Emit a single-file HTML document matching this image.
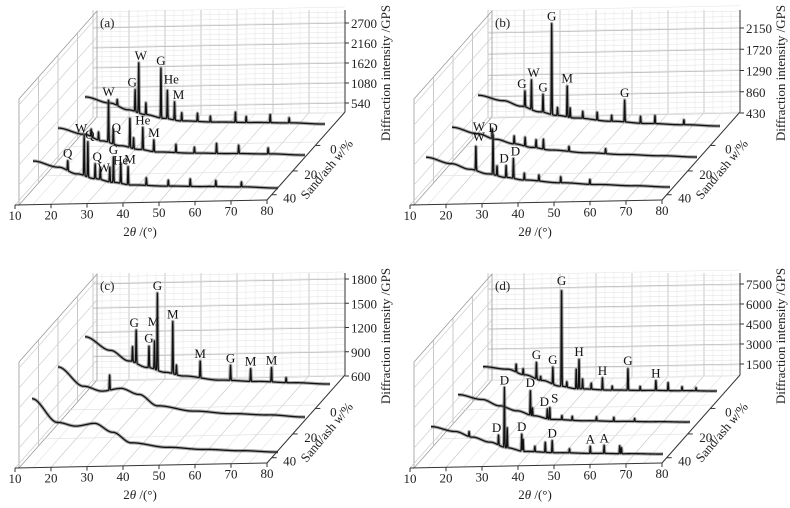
<!DOCTYPE html>
<html><head><meta charset="utf-8"><style>
html,body{margin:0;padding:0;background:#fff;}
svg{display:block;font-family:"Liberation Serif",serif;}
</style></head><body>
<svg id="chart" width="790" height="508" viewBox="0 0 790 508" xmlns="http://www.w3.org/2000/svg"></svg>
<script>
// ---- data ----
const thetaGrid=[13,20,25,30,35,40,50,60,70,80];
const seriesNames=['0','20','40'];
// panel a
const aTicks=[540,1080,1620,2160,2700];
const aBg0=[860,680,490,350,240,160,110,80,50,0];
const aBg20=[860,680,490,350,240,160,110,80,50,0];
const aBg40=[860,680,490,350,240,160,110,80,50,0];
const aP0=[[22,160],[27,590],[28,1350],[30,320],[34.2,1350],[36,760],[38,490],[40,220],[44.4,220],[48,160],[55,270],[58,160],[64.7,220],[70,135]];
const aP20=[[22,200],[24,220],[26.7,1160],[28,400],[32.5,810],[33.5,300],[36,600],[39,320],[45,220],[50,160],[56,270],[62,220],[70,160]];
const aP40=[[22.5,270],[27,1080],[28,950],[30,400],[31.4,320],[34,400],[35,680],[37,540],[39,490],[44,200],[50,160],[56,200],[63,160],[70,130]];
const aLabels=[[0,27,'G',-3,0],[0,28,'W',2,0],[0,34.2,'G',0,0],[0,36,'He',4,-4],[0,38,'M',4,0],
 [1,26.7,'W',0,0],[1,28,'Q',3,6],[1,36,'He',0,0],[1,39,'M',0,0],
 [2,22.5,'Q',0,0],[2,27,'W',-3,0],[2,28,'Q',2,0],[2,30,'Q',2,0],[2,34,'W',-6,8],[2,35,'G',0,0],[2,37,'He',0,4],[2,39,'M',2,0]];
// panel b
const bTicks=[430,860,1290,1720,2150];
const bBg0=[720,600,480,360,280,220,140,80,40,0];
const bBg20=[700,560,440,340,260,200,130,80,40,0];
const bBg40=[700,560,440,340,260,200,130,80,40,0];
const bP0=[[26,320],[27.8,600],[31,360],[33.4,1840],[35,160],[37.7,640],[38.5,200],[42,140],[46,160],[50,120],[53.6,440],[58,140],[62,160],[70,100]];
const bP20=[[24,200],[30,160],[33,180],[36,160],[38,200],[45,100],[55,100]];
const bP40=[[26.7,500],[31.4,800],[32.5,200],[35,240],[37,400],[40,140],[44,120],[50,120],[58,100]];
const bLabels=[[0,26,'G',-3,0],[0,27.8,'W',2,0],[0,31,'G',0,0],[0,33.4,'G',0,0],[0,37.7,'M',0,0],[0,53.6,'G',0,0],
 [2,26.7,'W',3,-12],[2,26.7,'W',3,-2],[2,31.4,'D',0,0],[2,35,'D',-2,0],[2,37,'D',2,0]];
// panel c
const cTicks=[600,900,1200,1500,1800];
const cBg0=[645,470,335,250,185,135,75,50,25,0];
const cBg20=[680,435,370,400,320,175,100,60,35,0];
const cBg40=[720,420,370,400,285,150,85,50,25,0];
const cP0=[[26,185],[27,410],[30.5,270],[32,350],[32.8,955],[37,645],[38,120],[44.5,210],[52.8,185],[58.3,160],[64,175],[68,60]];
const cP20=[[27,185]];
const cP40=[];
const cLabels=[[0,27,'G',-2,0],[0,30.5,'G',0,0],[0,32,'M',-1,-12],[0,32.8,'G',0,0],[0,37,'M',0,0],[0,44.5,'M',0,0],[0,52.8,'G',0,0],[0,58.3,'M',0,0],[0,64,'M',0,0]];
// panel d
const dTicks=[1500,3000,4500,6000,7500];
const dBg0=[2175,1950,1500,1050,600,375,225,150,75,0];
const dBg20=[2400,2000,1500,1100,700,400,250,150,75,0];
const dBg40=[2400,2000,1550,1150,700,400,250,150,75,0];
const dP0=[[22.5,600],[24.5,450],[28.3,1275],[29.5,300],[33,1275],[35.5,7350],[37,400],[39.7,1500],[40.5,2250],[41.5,750],[44,450],[47.2,900],[50,300],[54.5,1650],[58,300],[62.5,750],[66,600],[70,300],[74,225]];
const dP20=[[33.9,1875],[34.5,600],[38.8,750],[39.5,900],[43,300],[46,300],[53,300],[58,300],[64,225]];
const dP40=[[24,375],[32.5,750],[34.2,4500],[35,1500],[39.2,1275],[39.6,900],[43,400],[46,750],[48,900],[53,300],[59,525],[63,600],[67.5,600],[68,450]];
const dLabels=[[0,28.3,'G',0,0],[0,33,'G',0,0],[0,35.5,'G',0,0],[0,40.5,'H',0,0],[0,47.2,'H',0,0],[0,54.5,'G',0,0],[0,62.5,'H',0,0],
 [1,33.9,'D',0,0],[1,38.8,'D',-3,0],[1,39.5,'S',5,-2],[2,32.5,'D',-2,0],[2,34.2,'D',0,0],[2,39.2,'D',0,0],[2,48,'D',0,0],[2,59,'A',0,0],[2,63,'A',0,0]];

// ---- geometry (layout, not data) ----
const panels=[
 {id:'a',ox:0,oy:0,dy:0,ticks:aTicks,y0:103,step:20,bg:[aBg0,aBg20,aBg40],pk:[aP0,aP20,aP40],lab:aLabels,geom:[[85,325,124],[58,305,155],[33,278,188]]},
 {id:'b',ox:395,oy:0,dy:0,ticks:bTicks,y0:113,step:21.25,bg:[bBg0,bBg20,bBg40],pk:[bP0,bP20,bP40],lab:bLabels,geom:[[83,325,126],[57,302,157],[31,275,187]]},
 {id:'c',ox:0,oy:254,dy:9,ticks:cTicks,y0:122,step:24.25,bg:[cBg0,cBg20,cBg40],pk:[cP0,cP20,cP40],lab:cLabels,geom:[[85,330,130],[58,305,163],[32,278,198]]},
 {id:'d',ox:395,oy:254,dy:9,ticks:dTicks,y0:110,step:20,bg:[dBg0,dBg20,dBg40],pk:[dP0,dP20,dP40],lab:dLabels,geom:[[88,322,137],[63,295,168],[36,268,200]]}
];
const NS='http://www.w3.org/2000/svg';
const svg=document.getElementById('chart');
function mk(tag,attrs,parent){const e=document.createElementNS(NS,tag);for(const k in attrs)e.setAttribute(k,attrs[k]);(parent||svg).appendChild(e);return e;}
function interp(xs,ys,x){if(x<=xs[0])return ys[0];for(let i=1;i<xs.length;i++){if(x<=xs[i]){let t=(x-xs[i-1])/(xs[i]-xs[i-1]);t=t*t*(3-2*t);return ys[i-1]+t*(ys[i]-ys[i-1]);}}return ys[ys.length-1];}
function intensity(bg,pk,t){let v=interp(thetaGrid,bg,t);for(const p of pk){const d=(t-p[0])/0.12;v+=p[1]*Math.exp(-d*d);}return v;}

panels.forEach(P=>{
 const g=mk('g',{transform:`translate(${P.ox},${P.oy})`});
 
 
 const dy=P.dy;
 const FL=[15,205+dy],FR=[267,200+dy],DV=[78,-88];
 const BL=[FL[0]+DV[0],FL[1]+DV[1]],BR=[FR[0]+DV[0],FR[1]+DV[1]];
 const topY=10+dy, wallH=BL[1]-topY;
 const xFront=t=>FL[0]+(t-10)/70*(FR[0]-FL[0]);
 const yFront=t=>FL[1]+(t-10)/70*(FR[1]-FL[1]);
 const grid=mk('g',{},g);
 
 
 for(let t=10;t<=80;t+=2.5){const x=BL[0]+(t-10)/70*(BR[0]-BL[0]);const yb=BL[1]+(t-10)/70*(BR[1]-BL[1]);
  const major=(t%10===0);mk('line',{x1:x,y1:yb,x2:x,y2:topY,stroke:major?'#bbb':'#e2e2e2','stroke-width':major?0.8:0.5},grid);}
 for(let h=0;h<=wallH;h+=P.step/4){mk('line',{x1:BL[0],y1:BL[1]-h,x2:BR[0],y2:BR[1]-h,stroke:'#e2e2e2','stroke-width':0.5},grid);}
 P.ticks.forEach((v,i)=>{const y=P.y0-i*P.step;mk('line',{x1:BL[0],y1:y+(BL[1]-BR[1]),x2:BR[0],y2:y,stroke:'#bbb','stroke-width':0.8},grid);});
 mk('polygon',{points:`${FL[0]+4},${FL[1]} ${FL[0]+4},${FL[1]-106} ${BL[0]+4},${topY+1} ${BL[0]+4},${BL[1]}`,fill:'none',stroke:'#999','stroke-width':0.8},grid);
 for(let f=0.25;f<1;f+=0.25){const x=FL[0]+4+f*DV[0],yb=FL[1]+f*DV[1];mk('line',{x1:x,y1:yb,x2:x,y2:yb-106,stroke:'#bbb','stroke-width':0.8},grid);}
 for(let h=20;h<106;h+=20){mk('line',{x1:FL[0]+4,y1:FL[1]-h,x2:BL[0]+4,y2:BL[1]-h,stroke:'#ccc','stroke-width':0.6},grid);}
 for(let t=10;t<=80;t+=5){const x=xFront(t),y=yFront(t);mk('line',{x1:x,y1:y,x2:x+DV[0],y2:y+DV[1],stroke:t%10===0?'#ccc':'#e6e6e6','stroke-width':0.7},grid);}
 for(let f=0.33;f<1;f+=0.33){mk('line',{x1:FL[0]+f*DV[0],y1:FL[1]+f*DV[1],x2:FR[0]+f*DV[0],y2:FR[1]+f*DV[1],stroke:'#ddd','stroke-width':0.6},grid);}
 const ax=mk('g',{stroke:'#333','stroke-width':1,fill:'none'},g);
 
 
 mk('line',{x1:FL[0],y1:FL[1],x2:FR[0],y2:FR[1]},ax);
 mk('line',{x1:FR[0],y1:FR[1],x2:BR[0],y2:BR[1]},ax);
 mk('line',{x1:BR[0],y1:BR[1],x2:BR[0],y2:topY},ax);
 for(let t=10;t<=80;t+=10){const x=xFront(t),y=yFront(t);mk('line',{x1:x,y1:y,x2:x,y2:y+4},ax);
  const tx=mk('text',{x:x,y:y+15,'text-anchor':'middle','font-size':13,fill:'#222',stroke:'none'},g);tx.textContent=t;
  }
 P.ticks.forEach((v,i)=>{const y=P.y0-i*P.step;mk('line',{x1:BR[0],y1:y,x2:BR[0]+4,y2:y},ax);
  const tx=mk('text',{x:BR[0]+6,y:y+5,'font-size':13,fill:'#222'},g);tx.textContent=v;
  });
 [[0,0.62],[20,0.33],[40,0.06]].forEach(([lab,f])=>{const x=FR[0]+f*DV[0]+18,y=FR[1]+f*DV[1]+8;
  mk('line',{x1:FR[0]+f*DV[0],y1:FR[1]+f*DV[1],x2:FR[0]+f*DV[0]+5,y2:FR[1]+f*DV[1]},ax);
  const tx=mk('text',{x:x,y:y,'text-anchor':'middle','font-size':13,fill:'#222'},g);tx.textContent=lab;
  });
 const dt=mk('text',{x:0,y:0,'text-anchor':'middle','font-size':13,fill:'#222',transform:`translate(330,${172+dy}) rotate(-50)`},g);
 dt.innerHTML='Sand/ash <tspan font-style="italic">w</tspan>/%';
 
 const yt=mk('text',{x:0,y:0,'text-anchor':'middle','font-size':13,fill:'#222',transform:`translate(390,${73+dy}) rotate(-90)`},g);
 yt.textContent='Diffraction intensity /GPS';
 
 const xt=mk('text',{x:140,y:236+dy,'text-anchor':'middle','font-size':13,fill:'#222'},g);
 xt.innerHTML='2<tspan font-style="italic">θ</tspan> /(°)';
 
 const pl=mk('text',{x:100,y:27+dy,'font-size':13,fill:'#222'},g);pl.textContent='('+P.id+')';
 
 const k=P.step/(P.ticks[1]-P.ticks[0]);
 const proj=(si,t,I)=>{const [xs,xe,ye]=P.geom[si];const f=(t-13)/67;const x=xs+f*(xe-xs);const yb=ye+(xe-x)*0.02;return [x,yb-k*I];};
 for(let si=0;si<3;si++){
  let d='';for(let t=13;t<=80.001;t+=0.04){const [x,y]=proj(si,t,intensity(P.bg[si],P.pk[si],t));d+=(d?'L':'M')+x.toFixed(2)+','+y.toFixed(2);}
  const halo=mk('path',{d:d,fill:'none',stroke:'#666','stroke-width':3.4,'stroke-linejoin':'round','stroke-opacity':0.55},g);
  
  
  const pth=mk('path',{d:d,fill:'none',stroke:'#111','stroke-width':1.3,'stroke-linejoin':'round'},g);
  
  
 }
 P.lab.forEach(([si,t,txt,dx,ddy])=>{const [x,y]=proj(si,t,intensity(P.bg[si],P.pk[si],t));
  const tx=mk('text',{x:x+dx,y:y-3+ddy,'text-anchor':'middle','font-size':13,fill:'#111'},g);tx.textContent=txt;
  });
});
</script>
</body></html>
